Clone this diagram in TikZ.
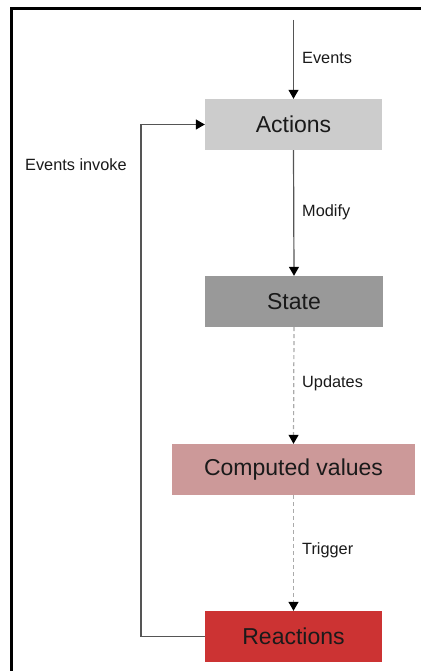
\documentclass[tikz,border=0pt]{standalone}
\usepackage{fontspec}
\setmainfont{Liberation Sans}
\usetikzlibrary{arrows.meta}
\definecolor{actc}{HTML}{CCCCCC}
\definecolor{stac}{HTML}{999999}
\definecolor{comc}{HTML}{CC9999}
\definecolor{reac}{HTML}{CC3333}
\definecolor{linec}{HTML}{555555}
\definecolor{dashc}{HTML}{AAAAAA}
\definecolor{txtc}{HTML}{1A1A1A}
\begin{document}
\begin{tikzpicture}[x=1pt,y=-1pt,
  box/.style={inner sep=0pt,minimum height=51pt,text=txtc,font=\fontsize{23}{27}\selectfont},
  lbl/.style={inner sep=0pt,anchor=west,text=txtc,font=\fontsize{16.3}{19}\selectfont},
  solidarrow/.style={draw=linec,line width=1.2pt,-{Triangle[width=10pt,length=9pt,fill=black,color=black]}},
  dasharrow/.style={draw=dashc,line width=1.2pt,dash pattern=on 4pt off 3pt,-{Triangle[width=10pt,length=9pt,fill=black,color=black]}}]
\useasboundingbox (0,0) rectangle (420,671);
\fill[white] (0,0) rectangle (420,671);
% frame (left and top)
\draw[line width=3pt,line cap=rect] (11,671) -- (11,8.3) -- (420,8.3);
% boxes
\node[box,fill=actc,minimum width=177pt] (act) at (293.5,124.5) {Actions};
\node[box,fill=stac,minimum width=178pt] (sta) at (294,301.5) {State};
\node[box,fill=comc,minimum width=243pt] (com) at (293.5,469.5) {Computed values};
\node[box,fill=reac,minimum width=177pt] (rea) at (293.5,636.5) {Reactions};
% connectors
\coordinate (top) at (293.5,20);
\draw[solidarrow] (top) -- (act.north);
\draw[solidarrow] (act.south) -- (sta.north);
\draw[dasharrow] (sta.south) -- (com.north);
\draw[dasharrow] (com.south) -- (rea.north);
\coordinate (lb) at (141,636.5);
\coordinate (lt) at (141,124.5);
\draw[solidarrow] (rea.west) -- (lb) -- (lt) -- (act.west);
% labels
\node[lbl] (l1) at (302,58) {Events};
\node[lbl] (l2) at (302,212) {Modify};
\node[lbl] (l3) at (302,383) {Updates};
\node[lbl] (l4) at (302,550) {Trigger};
\node[lbl] (l5) at (25,164.5) {Events invoke};
\end{tikzpicture}
\end{document}
